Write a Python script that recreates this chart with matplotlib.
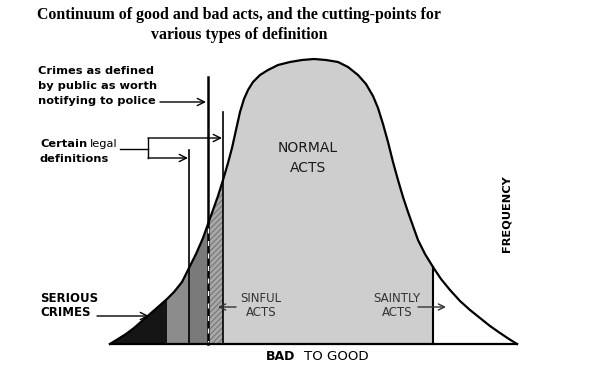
import numpy as np
import matplotlib
matplotlib.use('Agg')
import matplotlib.pyplot as plt

# Curve: position along the bad-to-good continuum and frequency
scale_x = [110, 118, 126, 134, 142, 150, 158, 167, 174, 182, 189, 196, 203, 208, 213, 218,
           223, 228, 232, 236, 240, 244, 248, 253, 260, 268, 278, 290, 302, 314, 326, 338,
           348, 358, 366, 373, 378, 383, 388, 393, 398, 403, 408, 413, 418, 425, 433, 441,
           450, 460, 470, 480, 490, 500, 509, 517]
freq = [0, 5, 10, 16, 23, 30, 37, 45, 52, 62, 76, 90, 106, 120, 134, 148,
        164, 181, 196, 214, 232, 245, 254, 262, 269, 274, 279, 282, 284, 285, 284, 282,
        277, 269, 260, 248, 236, 220, 202, 182, 164, 147, 132, 118, 104, 90, 77, 65,
        54, 43, 34, 26, 18, 11, 5, 0]

# cutting points: serious crimes | legal def. | public def. | sinful | normal | saintly
cut_points = [167, 189, 208, 223, 433]
region_colors = ['#151515', '#8c8c8c', '#7a7a7a', '#a8a8a8', '#cecece', 'white']

title_lines = ['Continuum of good and bad acts, and the cutting-points for',
               'various types of definition']

plt.rcParams['font.family'] = 'DejaVu Sans'
plt.rcParams['hatch.linewidth'] = 0.8

fig = plt.figure(figsize=(6.01, 3.69), dpi=100)
ax = fig.add_axes([0, 0, 1, 1])
ax.set_xlim(0, 601)
ax.set_ylim(369, 0)
ax.axis('off')

base = 344
x = np.array(scale_x, dtype=float)
f = np.array(freq, dtype=float)
top = base - f

# filled regions between cutting points
edges = [scale_x[0]] + cut_points + [scale_x[-1]]
for k in range(len(edges) - 1):
    i0 = scale_x.index(edges[k])
    i1 = scale_x.index(edges[k + 1]) + 1
    kw = dict(facecolor=region_colors[k], linewidth=0)
    if k == 3:
        kw.update(hatch='//////', edgecolor='#767676')
    ax.fill_between(x[i0:i1], base, top[i0:i1], **kw)

# outline and baseline
ax.plot(x, top, color='black', lw=1.6, solid_joinstyle='round')
ax.plot([scale_x[0], scale_x[-1]], [base, base], color='black', lw=1.6)


def curve_at(xx):
    return base - f[scale_x.index(xx)]


# vertical cutting lines
ax.plot([189, 189], [150, base], color='black', lw=1.2)
ax.plot([208, 208], [77, base], color='black', lw=1.8)
ax.plot([208, 208], [curve_at(208) + 4, base - 2], color='white', lw=0.9,
        linestyle=(0, (4, 6)))
ax.plot([223, 223], [112, base], color='black', lw=1.2)
ax.plot([433, 433], [curve_at(433), base], color='black', lw=1.5)

arrow = dict(arrowstyle='->', lw=1.0, color='black', mutation_scale=13,
             shrinkA=0, shrinkB=0)

# title
ax.text(239, 15, title_lines[0], ha='center', va='center', fontsize=11.4,
        family='Liberation Serif', weight='bold')
ax.text(239, 35, title_lines[1], ha='center', va='center', fontsize=11.4,
        family='Liberation Serif', weight='bold')

# public definition
for i, line in enumerate(['Crimes as defined', 'by public as worth', 'notifying to police']):
    ax.text(38, 71 + i * 15, line, ha='left', va='center', fontsize=8.2, weight='bold')
ax.annotate('', xy=(206, 102), xytext=(160, 102), arrowprops=arrow)

# legal definitions
ax.text(40, 144, 'Certain', ha='left', va='center', fontsize=8.2, weight='bold')
ax.text(90, 144, 'legal', ha='left', va='center', fontsize=8.2)
ax.text(40, 159, 'definitions', ha='left', va='center', fontsize=8.2, weight='bold')
ax.plot([120, 148], [149, 149], color='black', lw=1.0)
ax.plot([148, 148], [138, 158], color='black', lw=1.0)
ax.annotate('', xy=(222, 138), xytext=(148, 138), arrowprops=arrow)
ax.annotate('', xy=(188, 158), xytext=(148, 158), arrowprops=arrow)

# region labels
ax.text(40, 299, 'SERIOUS', ha='left', va='center', fontsize=8.5, weight='bold')
ax.text(40, 313, 'CRIMES', ha='left', va='center', fontsize=8.5, weight='bold')
ax.annotate('', xy=(149, 316), xytext=(97, 316), arrowprops=arrow)

ax.text(308, 148, 'NORMAL', ha='center', va='center', fontsize=10, color='#1a1a1a')
ax.text(308, 168, 'ACTS', ha='center', va='center', fontsize=10, color='#1a1a1a')

ax.text(261, 299, 'SINFUL', ha='center', va='center', fontsize=8.5, color='#333333')
ax.text(261, 313, 'ACTS', ha='center', va='center', fontsize=8.5, color='#333333')
ax.annotate('', xy=(218, 307), xytext=(236, 307),
            arrowprops=dict(arrow, color='#333333', mutation_scale=11))

ax.text(397, 298, 'SAINTLY', ha='center', va='center', fontsize=8.5, color='#333333')
ax.text(397, 313, 'ACTS', ha='center', va='center', fontsize=8.5, color='#333333')
ax.annotate('', xy=(446, 307), xytext=(418, 307),
            arrowprops=dict(arrow, color='#333333', mutation_scale=11))

# axis labels
ax.text(295, 357, 'BAD', ha='right', va='center', fontsize=9, weight='bold')
ax.text(304, 357, 'TO GOOD', ha='left', va='center', fontsize=9.6)
ax.text(506, 214, 'FREQUENCY', ha='center', va='center', rotation=90,
        fontsize=8.2, weight='bold')

fig.savefig('out.png', dpi=100)
